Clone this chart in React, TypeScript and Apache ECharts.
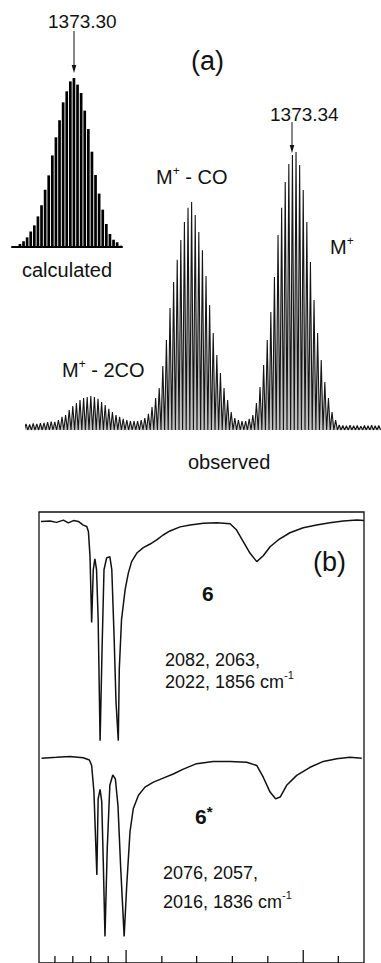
import React, { useEffect, useRef } from "react";
import * as echarts from "echarts";

// ---------- (a) calculated isotope pattern ----------
const calcMasses = [1358, 1359, 1360, 1361, 1362, 1363, 1364, 1365, 1366, 1367, 1368, 1369, 1370, 1371, 1372, 1373, 1374, 1375, 1376, 1377, 1378, 1379, 1380, 1381, 1382, 1383, 1384, 1385, 1386];
const calcIntensity = [1.8, 3.4, 5.7, 9.1, 12.8, 18.1, 24.7, 33.9, 42.4, 54.2, 64.9, 75.0, 85.6, 92.1, 98.0, 100, 96.1, 91.1, 80.7, 69.8, 56.4, 42.6, 31.6, 22.1, 13.6, 7.7, 4.3, 2.8, 0.8];

// ---------- (a) observed spectrum (peak heights per m/z) ----------
const obsMasses = [
  1298, 1299, 1300, 1301, 1302, 1303, 1304, 1305, 1306, 1307,
  1308, 1309, 1310, 1311, 1312, 1313, 1314, 1315, 1316, 1317,
  1318, 1319, 1320, 1321, 1322, 1323, 1324, 1325, 1326, 1327,
  1328, 1329, 1330, 1331, 1332, 1333, 1334, 1335, 1336, 1337,
  1338, 1339, 1340, 1341, 1342, 1343, 1344, 1345, 1346, 1347,
  1348, 1349, 1350, 1351, 1352, 1353, 1354, 1355, 1356, 1357,
  1358, 1359, 1360, 1361, 1362, 1363, 1364, 1365, 1366, 1367,
  1368, 1369, 1370, 1371, 1372, 1373, 1374, 1375, 1376, 1377,
  1378, 1379, 1380, 1381, 1382, 1383, 1384, 1385, 1386, 1387,
  1388, 1389, 1390, 1391, 1392, 1393, 1394, 1395, 1396,
];
const obsIntensity = [
  2.2, 2.0, 2.4, 2.2, 2.5, 2.6, 2.8, 3.0, 2.9, 3.6,
  4.7, 5.4, 7.2, 8.6, 9.7, 10.8, 11.5, 11.9, 12.2, 11.9,
  11.2, 10.1, 9.0, 7.6, 6.5, 5.4, 4.7, 4.0, 3.6, 3.2,
  3.2, 3.2, 3.6, 4.3, 5.8, 8.3, 11.5, 15.1, 23.0, 32.4,
  43.9, 53.2, 61.2, 68.3, 74.8, 79.9, 82.0, 77.3, 71.2, 64.7,
  55.4, 45.0, 34.9, 27.0, 20.5, 15.1, 10.8, 6.5, 4.3, 3.6,
  3.2, 3.2, 4.0, 5.4, 9.7, 15.5, 23.4, 32.4, 42.4, 55.0,
  70.1, 79.9, 89.2, 95.7, 98.9, 100, 95.3, 86.3, 74.8, 60.4,
  46.8, 34.9, 25.2, 17.3, 11.5, 6.5, 3.6, 1.8, 1.6, 1.5,
  1.7, 1.5, 1.6, 1.4, 1.6, 1.5, 1.7, 1.5, 1.6,
];

// ---------- (b) IR spectra (x: position across frame, y: transmittance-like) ----------
const ir6X = [0.6, 3.4, 5.4, 7.5, 9.0, 10.6, 12.1, 13.6, 14.7, 15.2, 15.7, 16.2, 16.7, 17.2, 17.7, 18.2, 18.8, 19.4, 20.0, 20.8, 21.8, 22.4, 23.1, 23.7, 24.4, 24.7, 25.4, 26.5, 27.5, 28.5, 30.1, 32.1, 34.2, 36.2, 38.2, 40.3, 43.4, 46.5, 50.6, 54.7, 58.8, 60.8, 62.9, 64.9, 67.0, 69.0, 71.1, 73.6, 77.2, 81.3, 85.4, 89.5, 93.6, 97.8, 100];
const ir6Y = [97.9, 98.0, 97.7, 98.2, 97.6, 98.1, 97.9, 97.1, 96.8, 95.7, 90.1, 75.5, 87.2, 89.6, 87.2, 76.2, 49.3, 69.5, 87.2, 89.8, 90.1, 87.2, 72.5, 57.8, 49.3, 65.1, 76.2, 82.8, 86.5, 89.0, 90.9, 92.1, 92.9, 93.8, 94.9, 95.8, 96.7, 97.1, 97.5, 97.6, 97.4, 96.0, 93.4, 90.9, 89.0, 90.3, 92.3, 93.8, 95.4, 96.5, 97.1, 97.6, 98.0, 98.2, 98.1];
const ir6sX = [0.8, 5.4, 9.5, 13.6, 15.5, 16.2, 16.9, 17.8, 18.2, 18.8, 19.3, 19.8, 20.3, 21.0, 21.8, 22.7, 23.5, 24.3, 25.1, 26.2, 27.0, 28.0, 29.0, 30.6, 32.6, 35.2, 38.2, 41.3, 44.4, 48.5, 53.6, 58.8, 63.9, 67.0, 69.0, 71.1, 72.8, 74.2, 76.2, 79.3, 83.4, 87.5, 91.6, 95.7, 99.3];
const ir6sY = [45.4, 45.6, 45.8, 45.5, 45.0, 43.8, 38.0, 19.5, 36.4, 38.5, 35.8, 21.7, 5.9, 25.4, 39.4, 41.7, 40.8, 34.9, 21.7, 5.9, 17.3, 29.1, 34.2, 37.2, 39.0, 40.1, 41.0, 41.9, 43.0, 44.2, 44.7, 44.7, 44.5, 43.8, 41.2, 37.9, 36.4, 36.8, 39.4, 41.6, 43.4, 44.7, 45.3, 45.6, 45.4];
const irTickX = [4.9, 10.4, 15.9, 21.3, 26.8, 37.8, 48.5, 59.5, 70.4, 81.3, 92.1];
const irTickMajor = [0, 0, 0, 0, 1, 0, 0, 0, 0, 1, 0];

const FONT = '"Liberation Sans", Arial, Helvetica, sans-serif';
const INK = "#111";

type Part = { t: string; size: number; dy?: number; bold?: boolean };

function run(ctx: CanvasRenderingContext2D, x0: number, y: number, parts: Part[]) {
  const els: any[] = [];
  let x = x0;
  for (const p of parts) {
    els.push({
      type: "text",
      x,
      y: y + (p.dy || 0),
      silent: true,
      style: {
        text: p.t,
        fontSize: p.size,
        fontFamily: FONT,
        fontWeight: p.bold ? "bold" : "normal",
        fill: INK,
        align: "left",
        verticalAlign: "middle",
      },
    });
    ctx.font = `${p.bold ? "bold " : ""}${p.size}px ${FONT}`;
    x += ctx.measureText(p.t).width;
  }
  return els;
}

function arrow(x: number, y1: number, y2: number) {
  return [
    { type: "line", silent: true, shape: { x1: x, y1, x2: x, y2: y2 - 6 }, style: { stroke: INK, lineWidth: 1 } },
    { type: "polygon", silent: true, shape: { points: [[x - 2.3, y2 - 8], [x + 2.3, y2 - 8], [x, y2]] }, style: { fill: INK } },
  ];
}

export default function App() {
  const ref = useRef<HTMLDivElement>(null);
  useEffect(() => {
    if (!ref.current) return;
    const chart = echarts.init(ref.current, null, { renderer: "svg" });
    const ctx = document.createElement("canvas").getContext("2d") as CanvasRenderingContext2D;

    const zig: number[][] = [];
    obsMasses.forEach((m, i) => {
      zig.push([m - 0.5, 0]);
      zig.push([m, obsIntensity[i]]);
    });
    zig.push([obsMasses[obsMasses.length - 1] + 0.5, 0]);

    const graphic: any[] = [
      ...run(ctx, 48, 21, [{ t: "1373.30", size: 19 }]),
      ...arrow(74, 31, 73),
      ...run(ctx, 191, 61, [{ t: "(a)", size: 27 }]),
      ...run(ctx, 270, 114, [{ t: "1373.34", size: 19 }]),
      ...arrow(292, 122, 153),
      ...run(ctx, 156, 177, [{ t: "M", size: 20 }, { t: "+", size: 12, dy: -6 }, { t: " - CO", size: 20 }]),
      ...run(ctx, 330, 247, [{ t: "M", size: 20 }, { t: "+", size: 12, dy: -6 }]),
      ...run(ctx, 22, 270, [{ t: "calculated", size: 20 }]),
      ...run(ctx, 62, 370, [{ t: "M", size: 20 }, { t: "+", size: 12, dy: -6 }, { t: " - 2CO", size: 20 }]),
      ...run(ctx, 188, 462, [{ t: "observed", size: 20 }]),
      ...run(ctx, 313, 562, [{ t: "(b)", size: 27 }]),
      ...run(ctx, 202, 593, [{ t: "6", size: 21, bold: true }]),
      ...run(ctx, 165, 660, [{ t: "2082, 2063,", size: 18 }]),
      ...run(ctx, 165, 682, [{ t: "2022, 1856 cm", size: 18 }, { t: "-1", size: 11, dy: -7 }]),
      ...run(ctx, 195, 816, [{ t: "6", size: 21, bold: true }, { t: "*", size: 15, bold: true, dy: -5 }]),
      ...run(ctx, 163, 873, [{ t: "2076, 2057,", size: 18 }]),
      ...run(ctx, 163, 902, [{ t: "2016, 1836 cm", size: 18 }, { t: "-1", size: 11, dy: -7 }]),
    ];

    const option: any = {
      animation: false,
      backgroundColor: "#fff",
      grid: [
        { left: 12, top: 78, width: 110, height: 169 },
        { left: 26, top: 152, width: 355, height: 278 },
        { left: 39, top: 512, width: 325, height: 453, show: true, borderColor: INK, borderWidth: 1.3, backgroundColor: "transparent" },
      ],
      xAxis: [
        {
          gridIndex: 0, type: "value", min: 1355.8, max: 1386.35,
          axisLine: { show: true, onZero: true, lineStyle: { color: "#000", width: 2 } },
          axisTick: { show: false }, axisLabel: { show: false }, splitLine: { show: false },
        },
        { gridIndex: 1, type: "value", min: 1298, max: 1396.6, show: false },
        { gridIndex: 2, type: "value", min: 0, max: 100, show: false },
      ],
      yAxis: [
        { gridIndex: 0, type: "value", min: 0, max: 100, show: false },
        { gridIndex: 1, type: "value", min: 0, max: 100, show: false },
        { gridIndex: 2, type: "value", min: 0, max: 100, show: false },
      ],
      series: [
        {
          type: "bar", xAxisIndex: 0, yAxisIndex: 0, barWidth: 2.7,
          data: calcMasses.map((m, i) => [m, calcIntensity[i]]),
          itemStyle: { color: "#000" },
        },
        {
          type: "line", xAxisIndex: 1, yAxisIndex: 1, data: zig, showSymbol: false, symbol: "none",
          lineStyle: { color: "#151515", width: 1.1 },
          areaStyle: { color: "#8a8a8a", opacity: 0.55 },
        },
        {
          type: "line", xAxisIndex: 2, yAxisIndex: 2, showSymbol: false, symbol: "none",
          data: ir6X.map((x, i) => [x, ir6Y[i]]),
          lineStyle: { color: INK, width: 1.5 },
        },
        {
          type: "line", xAxisIndex: 2, yAxisIndex: 2, showSymbol: false, symbol: "none",
          data: ir6sX.map((x, i) => [x, ir6sY[i]]),
          lineStyle: { color: INK, width: 1.5 },
        },
        {
          type: "custom", xAxisIndex: 2, yAxisIndex: 2,
          data: irTickX.map((x, i) => [x, irTickMajor[i]]),
          renderItem: (_p: any, api: any) => {
            const pt = api.coord([api.value(0), 0]);
            const len = api.value(1) ? 13 : 7;
            return {
              type: "line",
              shape: { x1: pt[0], y1: pt[1], x2: pt[0], y2: pt[1] - len },
              style: { stroke: INK, lineWidth: 1.3 },
            };
          },
        },
      ],
      graphic,
    };
    chart.setOption(option);
    return () => chart.dispose();
  }, []);
  return (
    <div
      ref={ref}
      style={{ position: "fixed", left: 0, top: 0, width: 381, height: 963, background: "#fff" }}
    />
  );
}
